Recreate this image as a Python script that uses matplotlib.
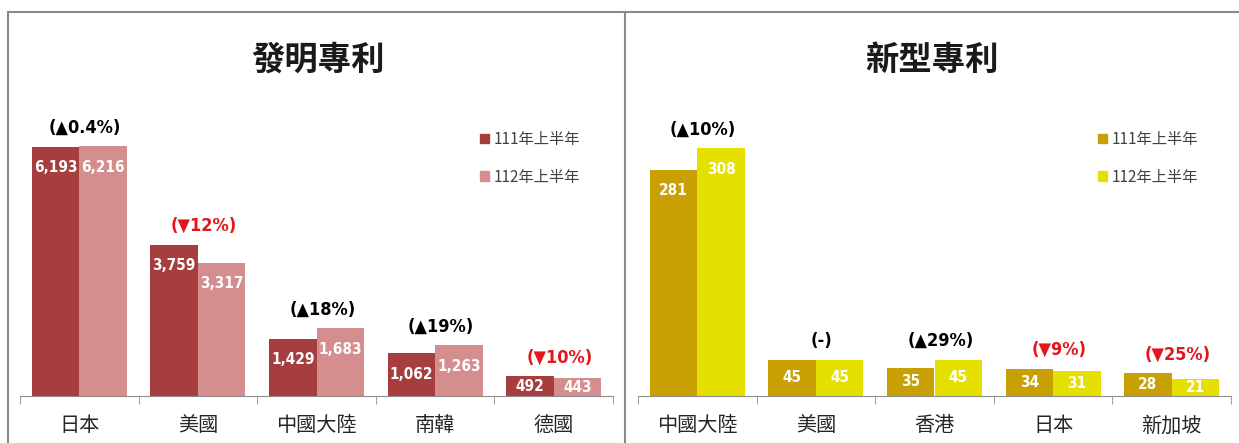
"""two panel patent bar chart"""
import numpy as np
import matplotlib
matplotlib.use("Agg")
from matplotlib import pyplot as plt
from matplotlib.lines import Line2D
from matplotlib.patches import Patch

plt.rcParams['font.family'] = ['Noto Sans CJK TC', 'DejaVu Sans']

# data
inv_cats = ["日本", "美國", "中國大陸", "南韓", "德國"]
inv_111 = [6193, 3759, 1429, 1062, 492]
inv_112 = [6216, 3317, 1683, 1263, 443]
inv_chg = ["(▲0.4%)", "(▼12%)", "(▲18%)", "(▲19%)", "(▼10%)"]

util_cats = ["中國大陸", "美國", "香港", "日本", "新加坡"]
util_111 = [281, 45, 35, 34, 28]
util_112 = [308, 45, 45, 31, 21]
util_chg = ["(▲10%)", "(-)", "(▲29%)", "(▼9%)", "(▼25%)"]

legend_labels = ["111年上半年", "112年上半年"]

W, H = 1239, 443
fig = plt.figure(figsize=(W / 100, H / 100), dpi=100)

numfont = dict(family=['DejaVu Sans'], fontstretch='condensed', fontweight='bold')


def panel(left_px, cats, v1, v2, chg, ymax, c1, c2, title, title_x):
    ax = fig.add_axes([left_px / W, (H - 396) / H, 593 / W, 281.5 / H])
    x = np.arange(len(cats))
    w = 0.4
    ax.bar(x - w / 2, v1, w, color=c1)
    ax.bar(x + w / 2, v2, w, color=c2)
    ax.set_xlim(-0.5, len(cats) - 0.5)
    ax.set_ylim(0, ymax)
    for s in ["top", "left", "right"]:
        ax.spines[s].set_visible(False)
    ax.spines["bottom"].set_color("#8c8c8c")
    ax.set_yticks([])
    ax.set_xticks(x)
    ax.set_xticklabels(cats, fontsize=14.5, color="#262626")
    ax.tick_params(axis="x", which="major", length=0, pad=14)
    ax.set_xticks(np.arange(-0.5, len(cats)), minor=True)
    ax.tick_params(axis="x", which="minor", length=6, color="#8c8c8c")

    d = ymax * 21 / 281.5
    for xs, vals in ((x - w / 2, v1), (x + w / 2, v2)):
        for xi, v in zip(xs, vals):
            yl = max(v - d, v / 2)
            ax.text(xi, yl, f"{v:,}", ha="center", va="center", color="white",
                    fontsize=11, clip_on=True, **numfont)
    for xi, a, b, t in zip(x, v1, v2, chg):
        col = "#e3161b" if "▼" in t else "black"
        ax.annotate(t, (xi + 0.05, max(a, b)), xytext=(0, 7), textcoords="offset points",
                    ha="center", va="bottom", fontsize=13, color=col, **numfont)
    fig.text(title_x / W, 1 - 60 / H, title, ha="center", va="center",
             fontsize=24, fontweight="bold", color="#1a1a1a")
    handles = [Patch(color=c1), Patch(color=c2)]
    ax.legend(handles, legend_labels, loc="upper left",
              bbox_to_anchor=((left_px + 460) / W, 1 - 131 / H),
              bbox_transform=fig.transFigure, frameon=False,
              handlelength=0.6, handleheight=0.6, handletextpad=0.3,
              labelspacing=1.35, fontsize=11, labelcolor="#404040",
              borderaxespad=0, borderpad=0)
    return ax


panel(20, inv_cats, inv_111, inv_112, inv_chg, 7000, "#a63d3e", "#d48e8e", "發明專利", 318)
panel(638, util_cats, util_111, util_112, util_chg, 350, "#c9a004", "#e6e000", "新型專利", 932)

# panel frames
lc = "#8a8a8a"
fig.add_artist(Line2D([8 / W, 1], [1 - 12 / H] * 2, color=lc, lw=1.5))
fig.add_artist(Line2D([8 / W] * 2, [0, 1 - 12 / H], color=lc, lw=1.5))
fig.add_artist(Line2D([625 / W] * 2, [0, 1 - 12 / H], color=lc, lw=1.5))

plt.savefig("out.png", dpi=100)
